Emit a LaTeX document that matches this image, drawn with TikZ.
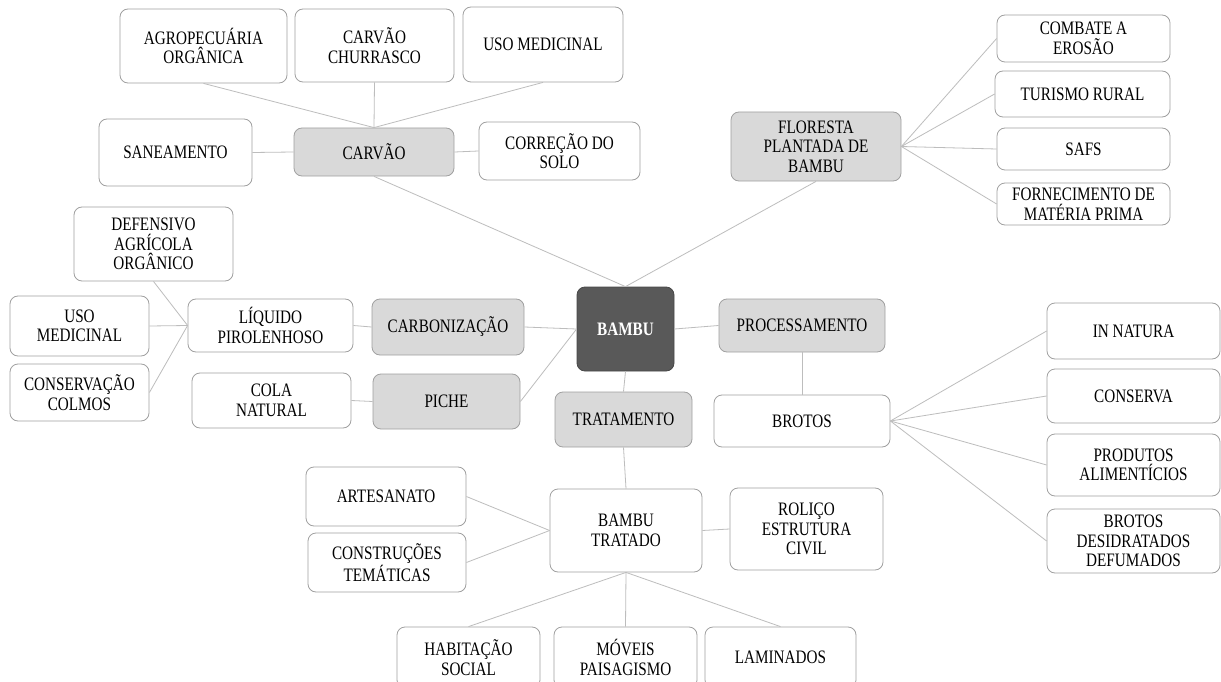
\documentclass[tikz,border=0pt]{standalone}
\usepackage{fontspec}
\setmainfont{Liberation Serif}[FakeStretch=0.8]
\definecolor{boxline}{HTML}{A0A0A0}
\definecolor{connline}{HTML}{BDBDBD}
\definecolor{graybox}{HTML}{D9D9D9}
\definecolor{darkbox}{HTML}{595959}
\definecolor{darkline}{HTML}{474747}
\newcommand\bxnode[7]{%
  \node[#6, minimum width={(#4-#2)*1pt}, minimum height={(#5-#3)*1pt}]
    (#1) at ({(#2+#4)/2},{(#3+#5)/2}) {#7};}
\tikzset{
  basebox/.style={rectangle, rounded corners=8pt, draw=boxline, line width=0.8pt,
    align=center, inner sep=1pt, font=\fontsize{19}{19.5}\selectfont, text=black},
  wbox/.style={basebox, fill=white},
  gbox/.style={basebox, fill=graybox},
  dbox/.style={basebox, fill=darkbox, draw=darkline, text=white,
    font=\fontsize{19}{19.5}\selectfont\bfseries},
  conn/.style={draw=connline, line width=0.8pt}
}
\begin{document}
\begin{tikzpicture}[x=1pt,y=-1pt]
\path[use as bounding box, fill=white] (0,0) rectangle (1221,682);
\clip (0,0) rectangle (1221,682);
% top-left cluster
\bxnode{agro}{120}{9}{287}{83}{wbox}{AGROPECUÁRIA\\ORGÂNICA}
\bxnode{carvchur}{295}{9}{454}{82}{wbox}{CARVÃO\\CHURRASCO}
\bxnode{usomedA}{463}{7}{623}{82}{wbox}{USO MEDICINAL}
\bxnode{saneam}{99}{119}{252}{186}{wbox}{SANEAMENTO}
\bxnode{carvao}{294}{128}{454}{176}{gbox}{CARVÃO}
\bxnode{correcao}{479}{122}{640}{180}{wbox}{CORREÇÃO DO\\SOLO}
% top-right cluster
\bxnode{combate}{997}{15}{1170}{62}{wbox}{COMBATE A\\EROSÃO}
\bxnode{turismo}{995}{71}{1170}{117}{wbox}{TURISMO RURAL}
\bxnode{safs}{997}{128}{1170}{170}{wbox}{SAFS}
\bxnode{fornec}{997}{183}{1170}{225}{wbox}{FORNECIMENTO DE\\MATÉRIA PRIMA}
\bxnode{floresta}{731}{112}{901}{181}{gbox}{FLORESTA\\PLANTADA DE\\BAMBU}
% left cluster
\bxnode{defensivo}{74}{207}{233}{281}{wbox}{DEFENSIVO\\AGRÍCOLA\\ORGÂNICO}
\bxnode{usomedB}{10}{296}{149}{356}{wbox}{USO\\MEDICINAL}
\bxnode{conserv}{10}{364}{149}{421}{wbox}{CONSERVAÇÃO\\COLMOS}
\bxnode{liquido}{188}{299}{353}{352}{wbox}{LÍQUIDO\\PIROLENHOSO}
\bxnode{carbon}{372}{299}{524}{355}{gbox}{CARBONIZAÇÃO}
\bxnode{cola}{192}{373}{351}{428}{wbox}{COLA\\NATURAL}
\bxnode{piche}{373}{374}{520}{429}{gbox}{PICHE}
% centre
\bxnode{bambu}{577}{287}{674}{371}{dbox}{BAMBU}
\bxnode{process}{719}{299}{885}{352}{gbox}{PROCESSAMENTO}
\bxnode{tratamento}{555}{392}{692}{447}{gbox}{TRATAMENTO}
\bxnode{brotos}{714}{395}{890}{447}{wbox}{BROTOS}
% right cluster
\bxnode{innatura}{1047}{303}{1220}{359}{wbox}{IN NATURA}
\bxnode{conserva}{1047}{369}{1220}{423}{wbox}{CONSERVA}
\bxnode{produtos}{1047}{434}{1220}{496}{wbox}{PRODUTOS\\ALIMENTÍCIOS}
\bxnode{brotosdes}{1047}{509}{1220}{573}{wbox}{BROTOS\\DESIDRATADOS\\DEFUMADOS}
% bottom cluster
\bxnode{bambutrat}{550}{489}{702}{572}{wbox}{BAMBU\\TRATADO}
\bxnode{rolico}{730}{488}{883}{570}{wbox}{ROLIÇO\\ESTRUTURA\\CIVIL}
\bxnode{artesanato}{306}{467}{466}{526}{wbox}{ARTESANATO}
\bxnode{construcoes}{308}{533}{466}{592}{wbox}{CONSTRUÇÕES\\TEMÁTICAS}
\bxnode{habitacao}{397}{627}{540}{688}{wbox}{HABITAÇÃO\\SOCIAL}
\bxnode{moveis}{554}{627}{697}{688}{wbox}{MÓVEIS\\PAISAGISMO}
\bxnode{laminados}{705}{627}{856}{688}{wbox}{LAMINADOS}
% connectors
\draw[conn] (agro.south) -- (carvao.north);
\draw[conn] (carvchur.south) -- (carvao.north);
\draw[conn] (usomedA.south) -- (carvao.north);
\draw[conn] (saneam.east) -- (carvao.west);
\draw[conn] (carvao.east) -- (correcao.west);
\draw[conn] (carvao.south) -- (bambu.north);
\draw[conn] (floresta.south) -- (bambu.north);
\draw[conn] (floresta.east) -- (combate.west);
\draw[conn] (floresta.east) -- (turismo.west);
\draw[conn] (floresta.east) -- (safs.west);
\draw[conn] (floresta.east) -- (fornec.west);
\draw[conn] (defensivo.south) -- (liquido.west);
\draw[conn] (usomedB.east) -- (liquido.west);
\draw[conn] (conserv.east) -- (liquido.west);
\draw[conn] (liquido.east) -- (carbon.west);
\draw[conn] (carbon.east) -- (bambu.west);
\draw[conn] (cola.east) -- (piche.west);
\draw[conn] (piche.east) -- (bambu.west);
\draw[conn] (bambu.east) -- (process.west);
\draw[conn] (process.south) -- (brotos.north);
\draw[conn] (brotos.east) -- (innatura.west);
\draw[conn] (brotos.east) -- (conserva.west);
\draw[conn] (brotos.east) -- (produtos.west);
\draw[conn] (brotos.east) -- (brotosdes.west);
\draw[conn] (bambu.south) -- (tratamento.north);
\draw[conn] (tratamento.south) -- (bambutrat.north);
\draw[conn] (bambutrat.east) -- (rolico.west);
\draw[conn] (artesanato.east) -- (bambutrat.west);
\draw[conn] (construcoes.east) -- (bambutrat.west);
\draw[conn] (bambutrat.south) -- (habitacao.north);
\draw[conn] (bambutrat.south) -- (moveis.north);
\draw[conn] (bambutrat.south) -- (laminados.north);
\end{tikzpicture}
\end{document}
